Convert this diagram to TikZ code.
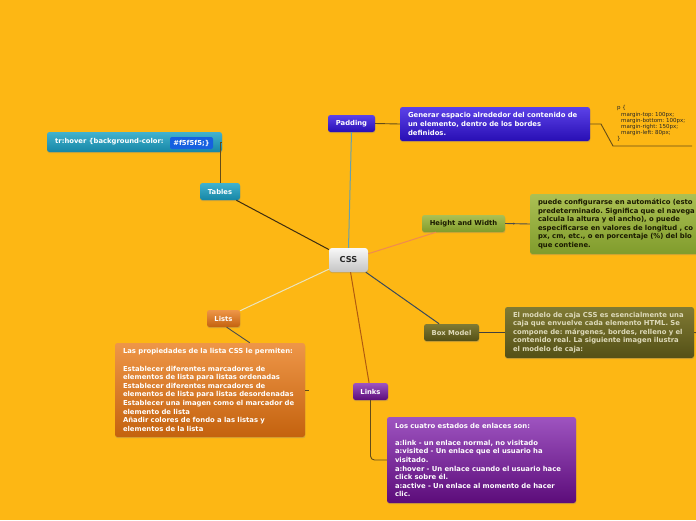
\documentclass[tikz,border=0pt]{standalone}
\usepackage{fontspec}
\setmainfont{DejaVu Sans}
\usetikzlibrary{shadows,calc}
\frenchspacing
\definecolor{bg}{RGB}{253,183,20}
\definecolor{padtop}{RGB}{92,66,232}
\definecolor{padbot}{RGB}{40,14,180}
\definecolor{teatop}{RGB}{66,178,206}
\definecolor{teabot}{RGB}{22,134,166}
\definecolor{trval}{RGB}{22,96,224}
\definecolor{hwtop}{RGB}{172,192,84}
\definecolor{hwbot}{RGB}{128,156,44}
\definecolor{hwtext}{RGB}{26,26,0}
\definecolor{bmtop}{RGB}{128,122,52}
\definecolor{bmbot}{RGB}{84,80,22}
\definecolor{bmtext}{RGB}{222,218,186}
\definecolor{lstop}{RGB}{238,150,72}
\definecolor{lsbot}{RGB}{196,98,14}
\definecolor{lktop}{RGB}{158,84,192}
\definecolor{lkbot}{RGB}{92,12,122}
\definecolor{csstop}{RGB}{248,248,248}
\definecolor{cssbot}{RGB}{196,196,196}
\definecolor{cssline}{RGB}{100,160,176}
\definecolor{tabline}{RGB}{60,44,16}
\definecolor{hwline}{RGB}{240,138,80}
\definecolor{bmline}{RGB}{58,74,90}
\definecolor{lsline}{RGB}{234,228,190}
\definecolor{lkline}{RGB}{176,90,16}
\definecolor{subline}{RGB}{100,76,24}
\begin{document}
\begin{tikzpicture}[x=1pt,y=-1pt,
  shad/.style={drop shadow={opacity=.3,shadow xshift=.4pt,shadow yshift=-1.2pt}},
  topic/.style={shad,rounded corners=2.5pt,minimum height=17pt,inner sep=0pt,
    font=\fontsize{6.8}{7.5}\selectfont\bfseries,text=white},
  desc/.style={shad,rounded corners=2.5pt,inner xsep=8pt,inner ysep=3pt,align=left,
    font=\fontsize{6.85}{8.6}\selectfont\bfseries\frenchspacing,text=white},
  conn/.style={line width=1pt},
  sub/.style={line width=.9pt,draw=subline},
  code/.style={anchor=north west,inner sep=0pt,align=left,text=black!85,
    font=\fontsize{5.5}{6.2}\selectfont}
]
\useasboundingbox (0,0) rectangle (696,520);
\fill[bg] (0,0) rectangle (696,520);

% central
\node[shad,rounded corners=3pt,minimum width=39pt,minimum height=24pt,inner sep=0pt,
  top color=csstop,bottom color=cssbot,font=\fontsize{8.2}{9}\selectfont\bfseries,text=black!85]
  (css) at (348.5,260) {CSS};

% topics
\node[topic,minimum width=47pt,top color=padtop,bottom color=padbot] (padding) at (351.5,123.5) {Padding};
\node[topic,minimum width=40pt,top color=teatop,bottom color=teabot] (tables) at (220,191.5) {Tables};
\node[topic,minimum width=83pt,top color=hwtop,bottom color=hwbot,text=hwtext] (hw) at (463.5,223.5) {Height and Width};
\node[topic,minimum width=55pt,top color=bmtop,bottom color=bmbot,text=bmtext] (bm) at (451.5,332.5) {Box Model};
\node[topic,minimum width=33pt,top color=lstop,bottom color=lsbot] (lists) at (223.5,318.5) {Lists};
\node[topic,minimum width=35pt,top color=lktop,bottom color=lkbot] (links) at (370.5,391.5) {Links};

% descriptions
\node[desc,minimum width=190pt,minimum height=34pt,text width=174pt,top color=padtop,bottom color=padbot]
  (paddesc) at (495,124) {Generar espacio alrededor del contenido de\\un elemento, dentro de los bordes\\definidos.};

\node[shad,rounded corners=2.5pt,minimum width=175pt,minimum height=20pt,inner sep=0pt,
  top color=teatop,bottom color=teabot] (trhover) at (134.5,142) {};
\node[anchor=west,inner sep=0pt,font=\fontsize{6.8}{7.5}\selectfont\bfseries,text=white]
  (trtext) at (55,142) {tr:hover \{background-color:};
\node[rounded corners=2pt,fill=trval,minimum width=43pt,minimum height=12pt,inner sep=0pt,
  font=\fontsize{6.8}{7.5}\selectfont\bfseries,text=white] (trv) at (191.5,143) {\#f5f5f5;\}};

\node[desc,minimum width=200pt,minimum height=60pt,text width=184pt,top color=hwtop,bottom color=hwbot,text=hwtext]
  (hwdesc) at (630,224) {puede configurarse en automático (esto\\predeterminado. Significa que el navega\\calcula la altura y el ancho), o puede\\especificarse en valores de longitud , co\\px, cm, etc., o en porcentaje (\%) del blo\\que contiene.};

\node[desc,minimum width=189pt,minimum height=51pt,text width=173pt,top color=bmtop,bottom color=bmbot,text=bmtext]
  (bmdesc) at (599.5,332.5) {El modelo de caja CSS es esencialmente una\\caja que envuelve cada elemento HTML. Se\\compone de: márgenes, bordes, relleno y el\\contenido real. La siguiente imagen ilustra\\el modelo de caja:};

\node[desc,minimum width=190pt,minimum height=94pt,text width=174pt,top color=lstop,bottom color=lsbot]
  (listsdesc) at (210,390) {Las propiedades de la lista CSS le permiten:\\[8.6pt]Establecer diferentes marcadores de\\elementos de lista para listas ordenadas\\Establecer diferentes marcadores de\\elementos de lista para listas desordenadas\\Establecer una imagen como el marcador de\\elemento de lista\\Añadir colores de fondo a las listas y\\elementos de la lista};

\node[desc,minimum width=189pt,minimum height=86pt,text width=173pt,top color=lktop,bottom color=lkbot]
  (linksdesc) at (481.5,460) {Los cuatro estados de enlaces son:\\[8.6pt]a:link - un enlace normal, no visitado\\a:visited - Un enlace que el usuario ha\\visitado.\\a:hover - Un enlace cuando el usuario hace\\click sobre él.\\a:active - Un enlace al momento de hacer\\clic.};

% code
\node[code] (codetxt) at (617,105.5) {p \{\\\hspace*{4pt}margin-top: 100px;\\\hspace*{4pt}margin-bottom: 100px;\\\hspace*{4pt}margin-right: 150px;\\\hspace*{4pt}margin-left: 80px;\\\}};
\coordinate (codebend) at (601,124);
\coordinate (codeul) at (613,146);
\coordinate (codeend) at (692,146);

% main connectors
\draw[conn,draw=cssline] (css.north) -- (padding.south);
\draw[conn,draw=tabline] (css) -- (tables);
\draw[conn,draw=hwline] (css) -- (hw);
\draw[conn,draw=bmline] (css) -- (bm);
\draw[conn,draw=lsline] (css) -- (lists);
\draw[conn,draw=lkline] (css) -- (links);

% sub connectors
\draw[sub] (padding.east) -- (paddesc.west);
\draw[sub] (paddesc.east) -- (codebend) -- (codeul) -- (codeend);
\draw[sub] (tables.north) |- (trhover.east);
\draw[sub,draw=black!70] (hw.east) -- node[pos=.35,circle,fill=black!70,inner sep=0pt,minimum size=2pt] (hwdot) {} (hwdesc.west);
\draw[sub,draw=black!75] (bm.east) -- (bmdesc.west);
\draw[sub,draw=black!70] (lists.290) -- ($(listsdesc.north west)+(135,0)$);
\draw[sub,rounded corners=4pt] (links.south) |- (linksdesc.west);
\coordinate (bmstub) at (700,333);
\draw[sub] (bmdesc.east) -- (bmstub);
\coordinate (lsstub) at (309,390);
\draw[sub] (listsdesc.east) -- (lsstub);
\end{tikzpicture}
\end{document}
